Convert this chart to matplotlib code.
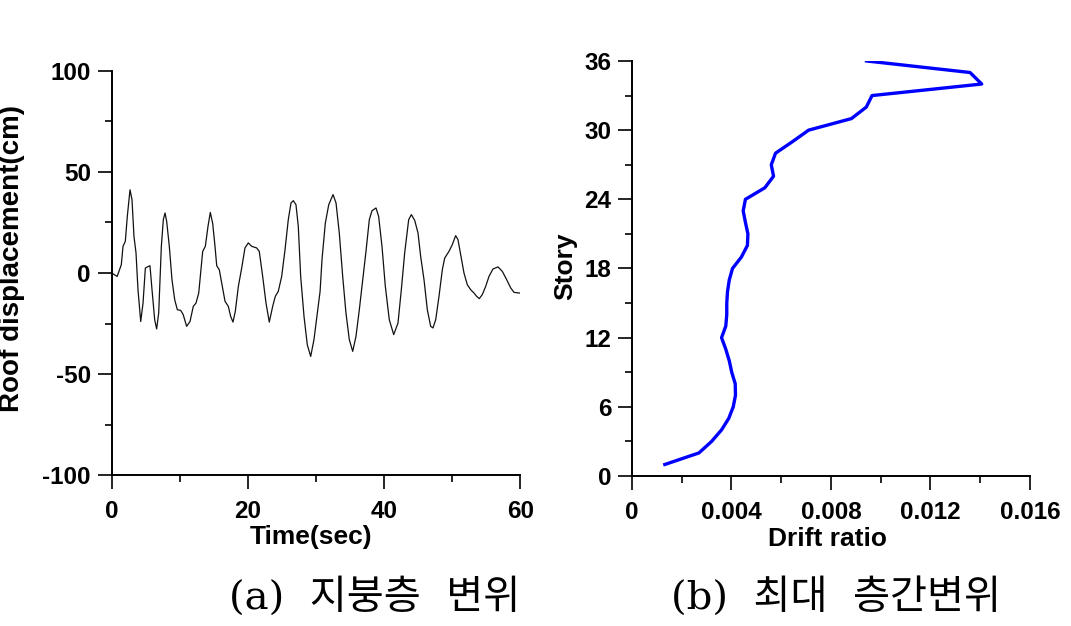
import matplotlib
matplotlib.use("Agg")
import matplotlib.pyplot as plt
from matplotlib.ticker import MultipleLocator, FuncFormatter

# (a) roof displacement time history
time_sec = [0.0, 0.8, 1.41, 1.66, 2.0, 2.29, 2.69, 2.98, 3.27, 3.57, 3.86, 4.26,
            4.6, 4.94, 5.23, 5.62, 5.92, 6.31, 6.6, 6.9, 7.29, 7.58, 7.83, 8.07,
            8.46, 8.85, 9.25, 9.64, 10.13, 10.5, 11.0, 11.5, 11.98, 12.38, 12.78,
            13.36, 13.75, 14.14, 14.48, 14.83, 15.17, 15.42, 15.8, 16.15, 16.64,
            17.12, 17.47, 17.81, 18.15, 18.6, 19.09, 19.57, 20.06, 20.56, 21.29,
            21.67, 22.17, 22.66, 23.14, 23.64, 24.02, 24.46, 24.96, 25.45, 25.93,
            26.33, 26.67, 27.06, 27.4, 27.75, 28.24, 28.72, 29.22, 29.7, 30.19,
            30.6, 30.88, 31.37, 31.87, 32.5, 32.94, 33.42, 33.92, 34.4, 34.89,
            35.39, 35.87, 36.36, 36.86, 37.34, 37.83, 38.22, 38.81, 39.2, 39.69,
            40.18, 40.76, 41.41, 42.04, 42.53, 43.02, 43.61, 44.0, 44.5, 44.98,
            45.37, 45.86, 46.35, 46.84, 47.18, 47.58, 48.06, 48.55, 48.9, 49.53,
            50.01, 50.51, 50.85, 51.25, 51.73, 52.22, 52.72, 53.2, 53.6, 53.98,
            54.42, 54.92, 55.4, 55.99, 56.73, 57.36, 58.0, 58.59, 59.08, 59.81, 60.0]
roof_cm = [0.0, -1.7, 4.1, 13.2, 15.7, 28.0, 41.2, 36.3, 18.1, 9.9, -8.3, -24.0,
           -14.9, 2.4, 3.0, 3.6, -8.3, -23.1, -27.7, -19.8, 13.2, 26.4, 29.7, 25.6,
           13.2, -3.3, -13.2, -18.2, -18.5, -20.6, -26.4, -24.0, -16.5, -14.9, -9.9,
           10.7, 13.2, 23.1, 30.0, 24.5, 13.2, 3.6, 1.6, -5.0, -14.0,
           -16.5, -21.5, -24.3, -19.0, -6.6, 2.5, 12.4, 14.9, 13.2, 12.4,
           10.7, -1.7, -14.9, -24.3, -16.5, -11.6, -9.1, -1.7, 11.5, 26.4,
           34.7, 35.8, 33.8, 23.1, -1.7, -21.5, -35.5, -41.3, -33.0, -19.8,
           -9.1, 6.6, 24.7, 33.8, 38.8, 34.7, 19.8, -1.7, -19.8, -33.0,
           -38.8, -31.4, -18.2, -3.3, 10.7, 26.4, 30.8, 32.2, 28.0, 13.2,
           -6.6, -23.1, -30.5, -24.8, -8.3, 9.9, 26.4, 28.9, 26.0, 19.8,
           8.2, -3.3, -18.2, -26.4, -27.2, -23.1, -11.6, 1.6, 7.4, 10.7,
           14.0, 18.5, 16.5, 9.1, 0.0, -5.8, -8.3, -9.9, -11.6, -12.7,
           -10.7, -6.6, -1.7, 2.0, 3.0, 0.8, -3.3, -7.4, -9.6, -9.9, -9.9]

# (b) maximum inter-story drift ratio per story
stories = list(range(1, 37))
drift_ratio = [0.00132, 0.00269, 0.0032, 0.0036, 0.00389, 0.00407, 0.00416, 0.00415,
               0.00401, 0.00391, 0.00377, 0.0036, 0.00377, 0.00381, 0.00381, 0.00384,
               0.00391, 0.00404, 0.0044, 0.00464, 0.00466, 0.00456, 0.00447, 0.00456,
               0.00534, 0.00569, 0.0056, 0.00577, 0.00645, 0.0071, 0.00882, 0.00942,
               0.00965, 0.01406, 0.01359, 0.00943]

plt.rcParams['font.family'] = ['Liberation Sans', 'DejaVu Sans']
plt.rcParams['axes.unicode_minus'] = False

fig = plt.figure(figsize=(10.71, 6.26), dpi=100)
ax1 = fig.add_axes([0.1043, 0.2412, 0.3815, 0.6454])
ax2 = fig.add_axes([0.5901, 0.2396, 0.3716, 0.6630])


def style_axes(ax):
    for side in ['top', 'right']:
        ax.spines[side].set_visible(False)
    for side in ['left', 'bottom']:
        ax.spines[side].set_linewidth(1.4)
    ax.tick_params(which='major', direction='out', length=10, width=1.2,
                   labelsize=17.5)
    ax.tick_params(which='minor', direction='out', length=5, width=1.2)
    ax.tick_params(axis='y', which='major', pad=5)
    ax.tick_params(axis='x', which='major', pad=8)
    for lab in ax.get_xticklabels() + ax.get_yticklabels():
        lab.set_fontweight('bold')


ax1.plot(time_sec, roof_cm, color='#111111', lw=0.9)
ax1.set_xlim(0, 60)
ax1.set_ylim(-100, 100)
ax1.xaxis.set_major_locator(MultipleLocator(20))
ax1.xaxis.set_minor_locator(MultipleLocator(10))
ax1.yaxis.set_major_locator(MultipleLocator(50))
ax1.yaxis.set_minor_locator(MultipleLocator(25))
style_axes(ax1)

ax2.plot(drift_ratio, stories, color='#0000ff', lw=2.4)
ax2.set_xlim(0, 0.016)
ax2.set_ylim(0, 36)
ax2.xaxis.set_major_locator(MultipleLocator(0.004))
ax2.xaxis.set_minor_locator(MultipleLocator(0.002))
ax2.yaxis.set_major_locator(MultipleLocator(6))
ax2.yaxis.set_minor_locator(MultipleLocator(3))
ax2.xaxis.set_major_formatter(FuncFormatter(lambda v, p: '0' if abs(v) < 1e-12 else f'{v:.3f}'))
style_axes(ax2)

lab_kw = dict(fontweight='bold', ha='center', va='center')
fig.text(12 / 1071, 1 - 259 / 626, 'Roof displacement(cm)', rotation=90,
         fontsize=20, **lab_kw)
fig.text(311 / 1071, 1 - 537 / 626, 'Time(sec)', fontsize=19, **lab_kw)
fig.text(565 / 1071, 1 - 266 / 626, 'Story', rotation=90, fontsize=19, **lab_kw)
fig.text(828 / 1071, 1 - 539 / 626, 'Drift ratio', fontsize=19, **lab_kw)

cap_kw = dict(fontsize=29, ha='center', va='center',
              family=['DejaVu Serif', 'Noto Sans CJK KR'])
fig.text(375 / 1071, 1 - 597 / 626, '(a)  지붕층  변위', **cap_kw)
fig.text(836 / 1071, 1 - 597 / 626, '(b)  최대  층간변위', **cap_kw)

fig.savefig('out.png', dpi=100)
